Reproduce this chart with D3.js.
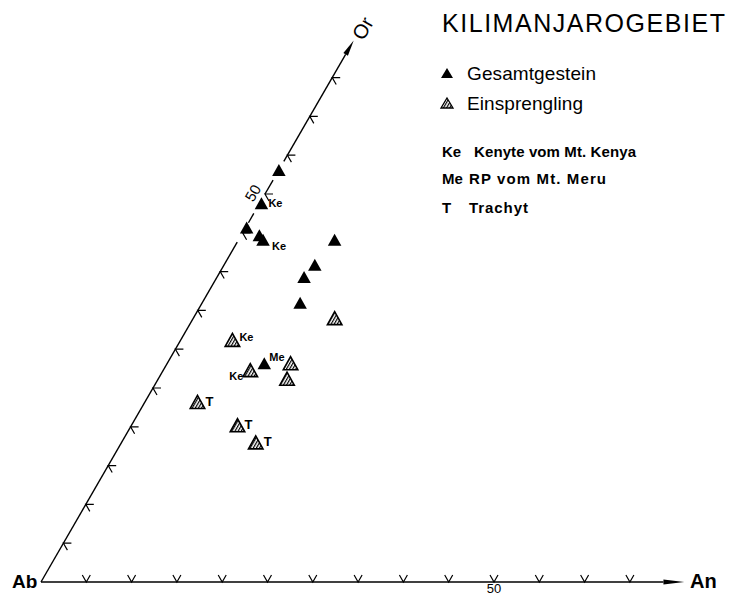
<!DOCTYPE html>
<html>
<head>
<meta charset="utf-8">
<script src="https://cdn.jsdelivr.net/npm/d3@7"></script>
<style>
  html, body { margin: 0; padding: 0; background: #fff; }
  svg { display: block; }
  text { font-family: "Liberation Sans", Arial, Helvetica, sans-serif; fill: #000; }
</style>
</head>
<body>
<svg id="chart" width="729" height="596"></svg>
<script>
// ---------------- data ----------------
const title = "KILIMANJAROGEBIET";
const cornerLabels = ["Ab", "An", "Or"];
const tickValues = [5, 10, 15, 20, 25, 30, 35, 40, 45, 50, 55, 60, 65];
const tickLabelValue = 50;

// Gesamtgestein (whole rock): An %, Or %
const wholeRockAn  = [0.0, 0.2, 0.1, 2.0, 2.7, 10.6, 10.0, 9.6, 10.8, 10.7];
const wholeRockOr  = [53.1, 48.8, 45.7, 44.7, 44.1, 44.1, 40.9, 39.3, 36.0, 28.2];
const wholeRockTag = ["", "Ke", "", "", "Ke", "", "", "", "", "Me"];

// Einsprengling (phenocrysts): An %, Or %
const phenoAn  = [15.6, 5.7, 9.6, 13.6, 14.2, 5.8, 11.7, 14.8];
const phenoOr  = [34.0, 31.2, 27.3, 28.2, 26.2, 23.2, 20.2, 18.0];
const phenoTag = ["", "Ke", "Ke", "", "", "T", "T", "T"];

const legendSeries = ["Gesamtgestein", "Einsprengling"];
const legendAbbrev = ["Ke", "Me", "T"];
const legendAbbrevText = ["Kenyte vom Mt. Kenya", "RP vom Mt. Meru", "Trachyt"];

// ---------------- layout ----------------
const svg = d3.select("#chart");
const ox = 41, oy = 582;
const anScale = d3.scaleLinear().domain([0, 100]).range([0, 906]);
const orScale = d3.scaleLinear().domain([0, 100]).range([0, 896]);
const S60 = Math.sin(Math.PI / 3), C60 = 0.5;
function proj(an, or) {
  const a = anScale(an), o = orScale(or);
  return [ox + a + o * C60, oy - o * S60];
}

const defs = svg.append("defs");
const pat = defs.append("pattern").attr("id", "hatch")
  .attr("patternUnits", "userSpaceOnUse").attr("width", 2.7).attr("height", 2.7)
  .attr("patternTransform", "rotate(30)");
pat.append("rect").attr("width", 2.7).attr("height", 2.7).attr("fill", "#fff");
pat.append("line").attr("x1", 0.6).attr("y1", 0).attr("x2", 0.6).attr("y2", 2.7)
  .attr("stroke", "#000").attr("stroke-width", 1.2);

const axisG = svg.append("g").attr("stroke", "#000").attr("stroke-width", 1.4).attr("fill", "none");

// An axis
const anEnd = 71, anHead = 2.3;
axisG.append("line")
  .attr("x1", proj(0, 0)[0]).attr("y1", proj(0, 0)[1])
  .attr("x2", proj(anEnd - anHead, 0)[0]).attr("y2", proj(anEnd - anHead, 0)[1]);
{
  const tip = proj(anEnd, 0), base = proj(anEnd - anHead, 0);
  svg.append("path").attr("fill", "#000")
    .attr("d", `M${tip[0]},${tip[1]} L${base[0]},${base[1] - 2.6} L${base[0]},${base[1] + 2.6} Z`);
}

// Or axis (broken where points sit)
const orSegments = [[0, 43.8], [46.3, 47.5], [50, 51.8], [54.2, 68]];
orSegments.forEach(s => {
  const p1 = proj(0, s[0]), p2 = proj(0, s[1]);
  axisG.append("line").attr("x1", p1[0]).attr("y1", p1[1]).attr("x2", p2[0]).attr("y2", p2[1]);
});
{
  const tip = proj(0, 69.8), base = proj(0, 68);
  const nx = S60, ny = C60; // perpendicular
  svg.append("path").attr("fill", "#000")
    .attr("d", `M${tip[0]},${tip[1]} L${base[0] + nx * 2.6},${base[1] + ny * 2.6} L${base[0] - nx * 2.6},${base[1] - ny * 2.6} Z`);
}

// ticks
const L = 8;
tickValues.forEach(v => {
  const p = proj(v, 0);
  axisG.append("path").attr("stroke-width", 1.2)
    .attr("d", `M${p[0] - L * C60},${p[1] - L * S60} L${p[0]},${p[1]} L${p[0] + L * C60},${p[1] - L * S60}`);
  const q = proj(0, v);
  axisG.append("path").attr("stroke-width", 1.2)
    .attr("d", `M${q[0] + L},${q[1]} L${q[0]},${q[1]} L${q[0] + L * C60},${q[1] + L * S60}`);
});

// tick labels "50"
{
  const p = proj(tickLabelValue, 0);
  svg.append("text").attr("x", p[0]).attr("y", 593).attr("text-anchor", "middle")
    .attr("font-size", 13).text(String(tickLabelValue));
  const q = proj(0, tickLabelValue);
  svg.append("text").attr("transform", `translate(${q[0] - 12},${q[1] - 1}) rotate(-60)`)
    .attr("text-anchor", "middle").attr("dy", "0.35em").attr("font-size", 15)
    .text(String(tickLabelValue));
}

// corner labels
svg.append("text").attr("x", 12).attr("y", 588).attr("font-size", 19).attr("font-weight", "bold")
  .text(cornerLabels[0]);
svg.append("text").attr("x", 690).attr("y", 588).attr("font-size", 20).attr("font-weight", "bold")
  .text(cornerLabels[1]);
{
  const q = proj(0, 69.8);
  svg.append("text").attr("transform", `translate(${q[0] + 9},${q[1] - 12}) rotate(-60)`)
    .attr("text-anchor", "middle").attr("dy", "0.35em").attr("font-size", 20)
    .text(cornerLabels[2]);
}

// markers
function triPath(cx, cy, w, h) {
  return `M${cx},${cy - h / 2} L${cx + w / 2},${cy + h / 2} L${cx - w / 2},${cy + h / 2} Z`;
}
const tw = 13.5, th = 12;

const labelFont = 11;
const wholeLabelOffset = { 1: [7, 4], 4: [9, 10], 9: [5, -2] };
const phenoLabelOffset = { 1: [7, 1], 2: [-7, 10, "end"], 5: [8, 4], 6: [7, 4], 7: [8, 4] };

const ptsG = svg.append("g");
phenoAn.forEach((an, i) => {
  const p = proj(an, phenoOr[i]);
  ptsG.append("path").attr("d", triPath(p[0], p[1], tw + 1, th + 1))
    .attr("fill", "url(#hatch)").attr("stroke", "#000").attr("stroke-width", 1.6)
    .attr("stroke-linejoin", "miter");
  if (phenoTag[i]) {
    const o = phenoLabelOffset[i] || [7, 4];
    ptsG.append("text").attr("x", p[0] + o[0]).attr("y", p[1] + o[1])
      .attr("text-anchor", o[2] || "start").attr("font-weight", "bold")
      .attr("font-size", phenoTag[i] === "T" ? 13 : labelFont).text(phenoTag[i]);
  }
});
wholeRockAn.forEach((an, i) => {
  const p = proj(an, wholeRockOr[i]);
  ptsG.append("path").attr("d", triPath(p[0], p[1], tw, th)).attr("fill", "#000");
  if (wholeRockTag[i]) {
    const o = wholeLabelOffset[i] || [7, 4];
    ptsG.append("text").attr("x", p[0] + o[0]).attr("y", p[1] + o[1])
      .attr("font-weight", "bold").attr("font-size", labelFont).text(wholeRockTag[i]);
  }
});

// title & legend
svg.append("text").attr("x", 442).attr("y", 32).attr("font-size", 25)
  .attr("textLength", 283).attr("lengthAdjust", "spacing").text(title);

const legY = [80, 110];
legendSeries.forEach((name, i) => {
  const cy = legY[i] - 7;
  svg.append("path").attr("d", triPath(447, cy, 12, 10))
    .attr("fill", i === 0 ? "#000" : "url(#hatch)")
    .attr("stroke", i === 0 ? "none" : "#000").attr("stroke-width", 1.3);
  svg.append("text").attr("x", 467).attr("y", legY[i]).attr("font-size", 19)
    .attr("textLength", i === 0 ? 129 : 116).attr("lengthAdjust", "spacing").text(name);
});

const abY = [157, 184, 213];
const abTextLen = [162, 137, 59];
const abX2 = [474, 469, 469];
legendAbbrev.forEach((ab, i) => {
  svg.append("text").attr("x", 442).attr("y", abY[i]).attr("font-size", 15).attr("font-weight", "bold")
    .text(ab);
  svg.append("text").attr("x", abX2[i]).attr("y", abY[i]).attr("font-size", 15).attr("font-weight", "bold")
    .attr("textLength", abTextLen[i]).attr("lengthAdjust", "spacing").text(legendAbbrevText[i]);
});
</script>
</body>
</html>
